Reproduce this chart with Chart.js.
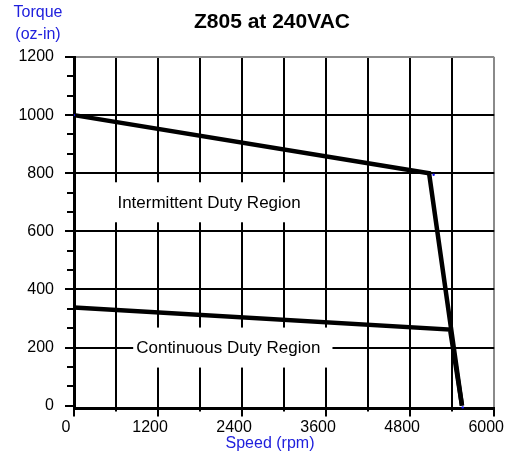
<!DOCTYPE html>
<html><head><meta charset="utf-8">
<script src="https://cdn.jsdelivr.net/npm/chart.js@4.4.1/dist/chart.umd.min.js"></script>
<style>html,body{margin:0;padding:0;background:#fff}#wrap{width:522px;height:456px;position:relative}</style>
</head><body><div id="wrap"><canvas id="c" width="522" height="456"></canvas></div>
<script>
const titleText = 'Z805 at 240VAC';
const xTitle = 'Speed (rpm)';
const yTitleLines = ['Torque', '(oz-in)'];
const xTickValues = [0, 600, 1200, 1800, 2400, 3000, 3600, 4200, 4800, 5400, 6000];
const xLabelValues = [0, 1200, 2400, 3600, 4800, 6000];
const yTickValues = [0, 200, 400, 600, 800, 1000, 1200];
const intermittentSpeed = [0, 5070, 5540];
const intermittentTorque = [1000, 800, 0];
const continuousSpeed = [0, 5370, 5540];
const continuousTorque = [338, 262, 0];
const markerSpeed = [0, 5135, 5550];
const markerTorque = [1000, 795, -6];
const regionLabels = ['Intermittent Duty Region', 'Continuous Duty Region'];
const regionSpeed = [620, 888];
const regionTorque = [700, 200];

const FONT = 'Liberation Sans, Arial, Helvetica, sans-serif';
Chart.defaults.font.family = FONT;
Chart.defaults.color = '#000';

function pts(xs, ys) { return xs.map((x, i) => ({ x: x, y: ys[i] })); }

const decor = {
  id: 'decor',
  beforeDatasetsDraw(chart) {
    const ctx = chart.ctx, xs = chart.scales.x, ys = chart.scales.y;
    ctx.save();
    ctx.font = '17px ' + FONT;
    ctx.textBaseline = 'middle';
    ctx.textAlign = 'left';
    regionLabels.forEach((t, i) => {
      const px = xs.getPixelForValue(regionSpeed[i]);
      const py = ys.getPixelForValue(regionTorque[i]);
      const w = ctx.measureText(t).width;
      ctx.fillStyle = '#fff';
      ctx.fillRect(px - 3, py - 20, w + 15, 40);
      ctx.fillStyle = '#000';
      ctx.fillText(t, px, py + 1);
    });
    ctx.restore();
  },
  afterDraw(chart) {
    const ctx = chart.ctx, xs = chart.scales.x, ys = chart.scales.y;
    const left = chart.chartArea.left, bottom = chart.chartArea.bottom;
    ctx.save();
    ctx.strokeStyle = '#000';
    ctx.lineWidth = 2;
    ctx.beginPath();
    yTickValues.forEach((v, i) => {
      const p = Math.round(ys.getPixelForValue(v));
      ctx.moveTo(left - 9, p); ctx.lineTo(left, p);
      if (i < yTickValues.length - 1) {
        const step = yTickValues[i + 1] - v;
        [step / 3, 2 * step / 3].forEach(d => {
          const q = Math.round(ys.getPixelForValue(v + d));
          ctx.moveTo(left - 7, q); ctx.lineTo(left, q);
        });
      }
    });
    xTickValues.forEach(v => {
      const p = Math.round(xs.getPixelForValue(v));
      const len = xLabelValues.includes(v) ? 8.5 : 3.5;
      ctx.moveTo(p, bottom); ctx.lineTo(p, bottom + len);
    });
    ctx.stroke();

    ctx.fillStyle = '#000';
    ctx.font = 'bold 21px ' + FONT;
    ctx.textAlign = 'center';
    ctx.textBaseline = 'alphabetic';
    ctx.fillText(titleText, 272, 28);

    ctx.fillStyle = '#2020dd';
    ctx.font = '16px ' + FONT;
    ctx.fillText(yTitleLines[0], 38, 17);
    ctx.fillText(yTitleLines[1], 38, 38.5);
    ctx.fillText(xTitle, 270, 447.5);
    ctx.restore();
  }
};

new Chart(document.getElementById('c'), {
  type: 'scatter',
  data: {
    datasets: [
      { label: 'markers', data: pts(markerSpeed, markerTorque), showLine: false,
        pointRadius: 1.2, pointBackgroundColor: '#1010ee', pointBorderWidth: 0, order: 0, clip: false },
      { label: 'Intermittent', data: pts(intermittentSpeed, intermittentTorque), showLine: true,
        borderColor: '#000', borderWidth: 4.5, pointRadius: 0, tension: 0, order: 1, clip: false },
      { label: 'Continuous', data: pts(continuousSpeed, continuousTorque), showLine: true,
        borderColor: '#000', borderWidth: 4.5, pointRadius: 0, tension: 0, order: 2, clip: false }
    ]
  },
  options: {
    responsive: false,
    animation: false,
    devicePixelRatio: 1,
    layout: { padding: { top: 57, right: 24, left: 0, bottom: 0 } },
    plugins: { legend: { display: false }, tooltip: { enabled: false }, title: { display: false } },
    scales: {
      x: {
        type: 'linear', min: 0, max: 6000,
        afterBuildTicks: s => { s.ticks = xTickValues.map(v => ({ value: v })); },
        afterFit: s => { s.height = 48; },
        ticks: {
          autoSkip: false, maxRotation: 0, minRotation: 0,
          callback: v => xLabelValues.includes(v) ? String(v) : '',
          font: { size: 16 }, color: '#000', labelOffset: -8, padding: 10
        },
        grid: {
          drawTicks: false, lineWidth: 2,
          color: c => (c.tick && c.tick.value === 6000) ? '#8a8a8a' : '#000'
        },
        border: { display: true, color: '#000', width: 3 }
      },
      y: {
        type: 'linear', min: -8, max: 1200,
        afterBuildTicks: s => { s.ticks = yTickValues.map(v => ({ value: v })); },
        afterFit: s => { s.width = 74; },
        ticks: {
          callback: v => String(v),
          font: { size: 16 }, color: '#000', padding: 20
        },
        grid: {
          drawTicks: false, lineWidth: 2,
          color: c => {
            if (!c.tick) return '#000';
            if (c.tick.value === 0) return 'rgba(0,0,0,0)';
            if (c.tick.value === 1200) return '#8a8a8a';
            return '#000';
          }
        },
        border: { display: true, color: '#000', width: 3 }
      }
    }
  },
  plugins: [decor]
});
</script>
</body></html>
